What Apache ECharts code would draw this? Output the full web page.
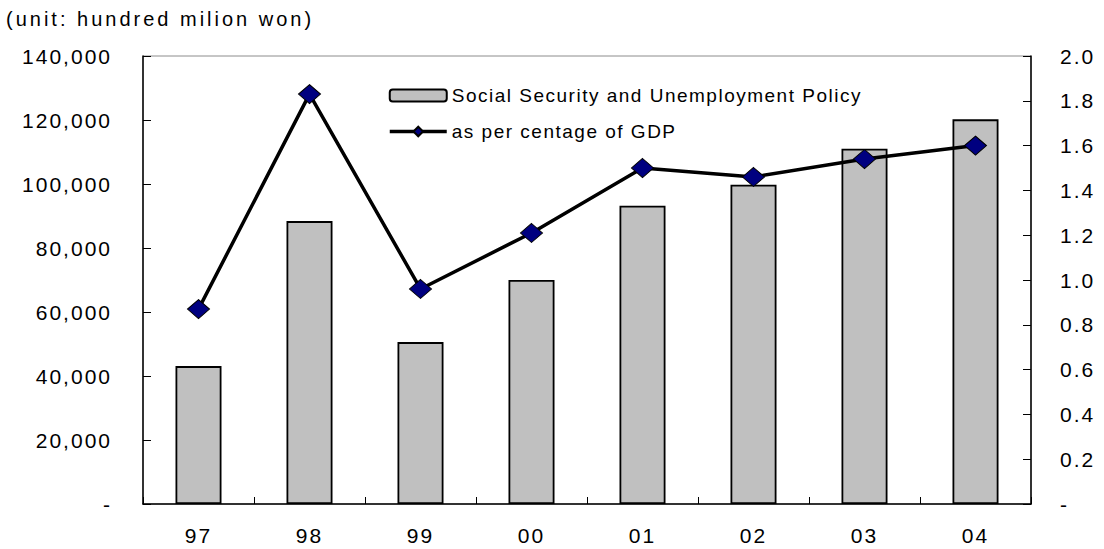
<!DOCTYPE html>
<html>
<head>
<meta charset="utf-8">
<script src="https://cdn.jsdelivr.net/npm/echarts@6/dist/echarts.min.js"></script>
<style>
  html, body { margin: 0; padding: 0; background: #fff; }
  #chart { width: 1104px; height: 549px; }
  #chart text { letter-spacing: 2px; }
  #chart text[style*="19px"] { letter-spacing: 1.5px; }
  #chart text[style*="20px"] { letter-spacing: 3px; }
</style>
</head>
<body>
<div id="chart"></div>
<script>
const categories = ['97', '98', '99', '00', '01', '02', '03', '04'];
const spending = [43100, 88400, 50600, 70000, 93200, 99800, 111000, 120200];
const gdpShare = [0.87, 1.83, 0.96, 1.21, 1.50, 1.46, 1.54, 1.60];
const barName = 'Social Security and Unemployment Policy';
const lineName = 'as per centage of GDP';
const unitLabel = '(unit: hundred milion won)';

const FONT = '"Liberation Sans", Arial, sans-serif';
const chart = echarts.init(document.getElementById('chart'), null, { renderer: 'svg' });

chart.setOption({
  backgroundColor: '#ffffff',
  animation: false,
  title: {
    text: unitLabel,
    left: 6,
    top: 9,
    padding: 0,
    textStyle: { fontFamily: FONT, fontSize: 20, fontWeight: 'normal', color: '#000' }
  },
  legend: {
    orient: 'vertical',
    left: 388,
    top: 86,
    itemWidth: 57,
    itemHeight: 12,
    itemGap: 17,
    padding: 0,
    data: [barName, lineName],
    lineStyle: { width: 3.5, color: '#000' },
    textStyle: { fontFamily: FONT, fontSize: 19, color: '#000' }
  },
  grid: {
    left: 143,
    right: 73,
    top: 56,
    bottom: 45,
    show: true,
    borderColor: '#8c8c8c',
    borderWidth: 1,
    backgroundColor: 'transparent'
  },
  xAxis: {
    type: 'category',
    data: categories,
    axisLine: { lineStyle: { color: '#000', width: 1.5 } },
    axisTick: { show: true, inside: true, length: 7, lineStyle: { color: '#000', width: 1 } },
    axisLabel: { fontFamily: FONT, fontSize: 21, color: '#000', margin: 21 },
    splitLine: { show: false }
  },
  yAxis: [
    {
      type: 'value',
      min: 0,
      max: 140000,
      interval: 20000,
      axisLine: { show: true, lineStyle: { color: '#000', width: 1.5 } },
      axisTick: { show: true, inside: true, length: 8, lineStyle: { color: '#000', width: 1 } },
      axisLabel: {
        fontFamily: FONT, fontSize: 21, color: '#000', margin: 31,
        formatter: v => v === 0 ? '-' : v.toLocaleString('en-US')
      },
      splitLine: { show: false }
    },
    {
      type: 'value',
      min: 0,
      max: 2.0,
      interval: 0.2,
      position: 'right',
      axisLine: { show: true, lineStyle: { color: '#000', width: 1.5 } },
      axisTick: { show: true, inside: true, length: 8, lineStyle: { color: '#000', width: 1 } },
      axisLabel: {
        fontFamily: FONT, fontSize: 21, color: '#000', margin: 29,
        formatter: v => v === 0 ? '-' : v.toFixed(1)
      },
      splitLine: { show: false }
    }
  ],
  series: [
    {
      name: barName,
      type: 'bar',
      yAxisIndex: 0,
      data: spending,
      barWidth: 46,
      itemStyle: { color: '#c0c0c0', borderColor: '#000', borderWidth: 1.8 }
    },
    {
      name: lineName,
      type: 'line',
      yAxisIndex: 1,
      data: gdpShare,
      symbol: 'diamond',
      symbolSize: [22, 19],
      lineStyle: { color: '#000', width: 3.5 },
      itemStyle: { color: '#000080', borderColor: '#000', borderWidth: 1 },
      z: 5
    }
  ]
});
</script>
</body>
</html>
